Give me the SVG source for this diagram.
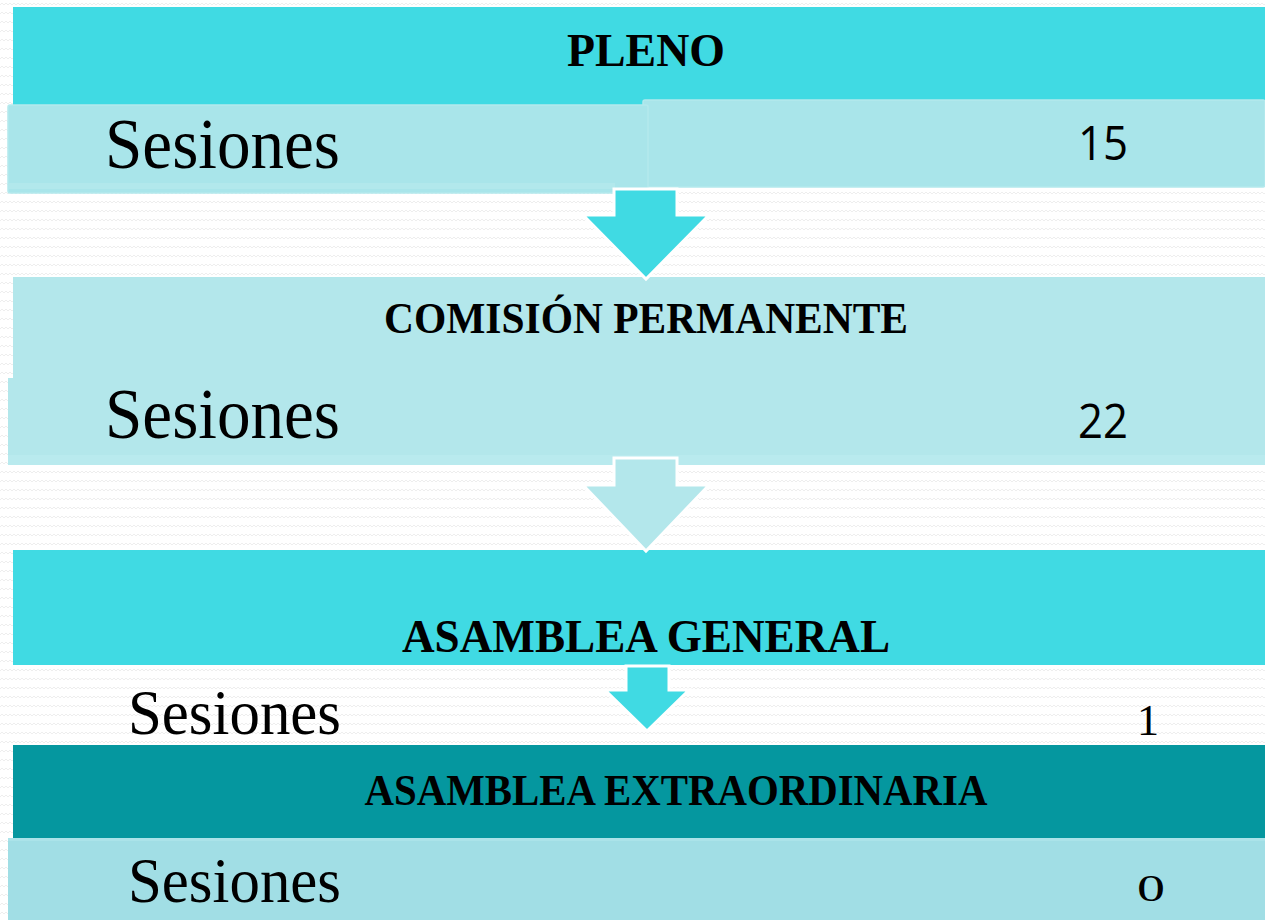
<svg xmlns="http://www.w3.org/2000/svg" width="1265" height="920" viewBox="0 0 1265 920">
<defs>
<pattern id="zig" width="8" height="9" patternUnits="userSpaceOnUse">
<path d="M0 5 L2 3 L4 5 L6 3 L8 5" fill="none" stroke="#ececec" stroke-width="0.9"/>
</pattern>
<style>
.title{font-family:"Liberation Serif",serif;font-weight:bold;fill:#000;text-anchor:middle}
.ses{font-family:"Liberation Serif",serif;fill:#000}
.num{font-family:"Open Sans","Liberation Sans",sans-serif;fill:#000}
.old{font-family:"Liberation Serif",serif;fill:#000}
.arrow{stroke:#ffffff;stroke-width:3;stroke-linejoin:miter}
</style>
</defs>
<rect x="0" y="0" width="1265" height="920" fill="#ffffff"/>
<rect x="0" y="0" width="1265" height="920" fill="url(#zig)"/>

<g id="pleno">
<rect x="13" y="7" width="1252" height="98" fill="#40DAE3"/>
<text class="title" x="646" y="66" font-size="46" textLength="158" lengthAdjust="spacingAndGlyphs">PLENO</text>
<rect x="643" y="100" width="622" height="87" rx="2" fill="#A9E5EA" stroke="#B4E9ED" stroke-width="1.5"/>
<rect x="8" y="105" width="640" height="88" rx="2" fill="#A9E5EA" stroke="#B4E9ED" stroke-width="1.5"/>
<rect x="8" y="183" width="607" height="6" fill="#B2E8EC"/>
<text class="ses" x="105" y="168" font-size="72" textLength="235" lengthAdjust="spacingAndGlyphs">Sesiones</text>
<text class="num" x="1078" y="160" font-size="47" textLength="50" lengthAdjust="spacingAndGlyphs">15</text>
</g>

<g id="comision">
<rect x="13" y="277" width="1252" height="188" fill="#B3E7EB"/>
<rect x="8" y="378" width="1257" height="87" fill="#B3E7EB"/>
<rect x="8" y="455" width="1257" height="10" fill="#B9EAEE"/>
<text class="title" x="646" y="333" font-size="44" textLength="524" lengthAdjust="spacingAndGlyphs">COMISIÓN PERMANENTE</text>
<text class="ses" x="105" y="438" font-size="72" textLength="235" lengthAdjust="spacingAndGlyphs">Sesiones</text>
<text class="num" x="1078" y="438" font-size="47" textLength="50" lengthAdjust="spacingAndGlyphs">22</text>
</g>

<g id="asamblea-general">
<rect x="13" y="550" width="1252" height="115" fill="#40DAE3"/>
<text class="title" x="646" y="652" font-size="46" textLength="488" lengthAdjust="spacingAndGlyphs">ASAMBLEA GENERAL</text>
<text class="ses" x="128" y="734" font-size="63" textLength="213" lengthAdjust="spacingAndGlyphs">Sesiones</text>
<text class="old" x="1137" y="735" font-size="44">1</text>
</g>

<g id="asamblea-extraordinaria">
<rect x="13" y="745" width="1252" height="93" fill="#05979F"/>
<rect x="8" y="838" width="1257" height="82" fill="#A1DEE5"/>
<rect x="8" y="838" width="1257" height="3" fill="#ABE3E9"/>
<text class="title" x="676" y="805" font-size="44" textLength="623" lengthAdjust="spacingAndGlyphs">ASAMBLEA EXTRAORDINARIA</text>
<text class="ses" x="128" y="902" font-size="63" textLength="213" lengthAdjust="spacingAndGlyphs">Sesiones</text>
<text class="old" x="1137" y="901" font-size="37" textLength="28" lengthAdjust="spacingAndGlyphs">0</text>
</g>

<g id="connectors">
<path class="arrow" fill="#40DAE3" d="M614 189 L677 189 L677 215 L709 215 L646 279 L583 215 L614 215 Z"/>
<path class="arrow" fill="#B3E7EB" d="M614 458 L677 458 L677 485 L709 485 L646 551 L583 485 L614 485 Z"/>
<path class="arrow" fill="#40DAE3" d="M626 666 L669 666 L669 690 L689 690 L647 731 L605 690 L626 690 Z"/>
</g>
</svg>
